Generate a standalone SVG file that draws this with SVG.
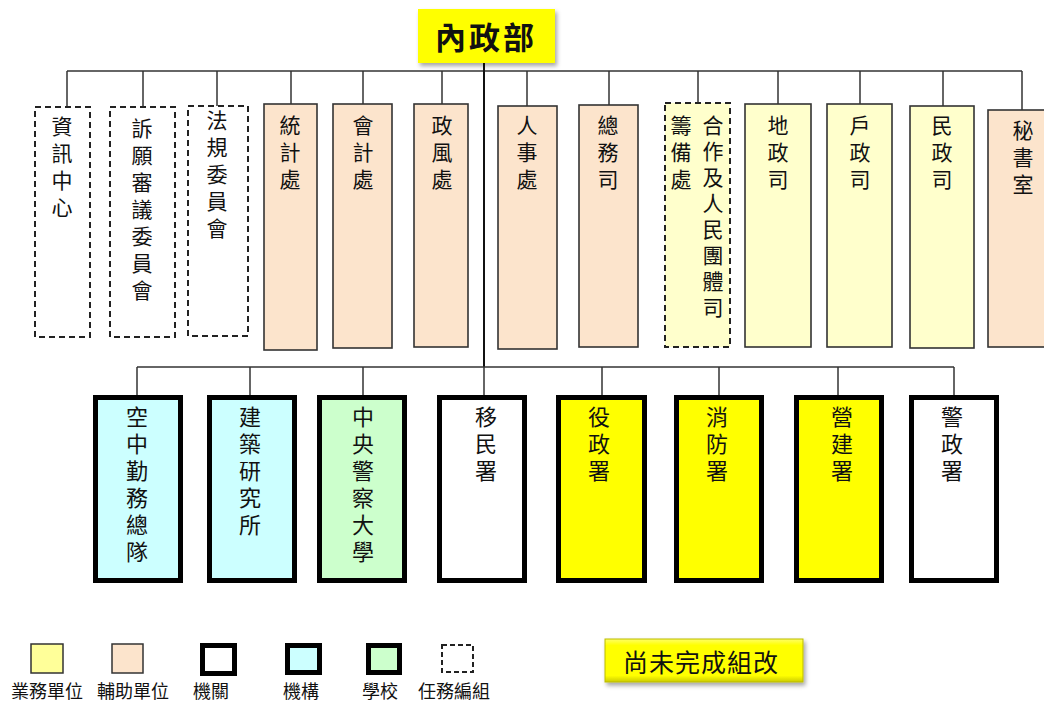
<svg xmlns="http://www.w3.org/2000/svg" width="1044" height="704" viewBox="0 0 1044 704">
<defs>
<style>
text{font-family:"Noto Sans CJK TC","Noto Sans CJK SC",sans-serif;fill:#111;}
.t{font-size:21px;writing-mode:vertical-rl;text-orientation:upright;letter-spacing:6px;}
.b{font-size:22px;writing-mode:vertical-rl;text-orientation:upright;letter-spacing:5px;}
.lg{font-size:18px;}
.peach{fill:#FCE4CC;stroke:#333;stroke-width:1.6;}
.ly{fill:#FFFFCC;stroke:#333;stroke-width:1.6;}
.dash{fill:#fff;stroke:#222;stroke-width:2;stroke-dasharray:6,4;}
.dashy{fill:#FFFFCC;stroke:#222;stroke-width:2;stroke-dasharray:6,4;}
.thick{stroke:#000;stroke-width:5;}
.conn{stroke:#333;stroke-width:1.5;fill:none;}
</style>
<filter id="sh" x="-10%" y="-10%" width="130%" height="140%">
<feDropShadow dx="2" dy="3" stdDeviation="2" flood-color="#000" flood-opacity="0.35"/>
</filter>
<linearGradient id="bev" x1="0" y1="0" x2="0" y2="1">
<stop offset="0" stop-color="#FFFF66"/>
<stop offset="0.15" stop-color="#FFFF00"/>
<stop offset="0.85" stop-color="#FFFF00"/>
<stop offset="1" stop-color="#CCCC00"/>
</linearGradient>
</defs>
<rect width="1044" height="704" fill="#fff"/>

<g id="connectors">
<line class="conn" x1="67" y1="71" x2="1022" y2="71"/>
<line class="conn" x1="67" y1="71" x2="67" y2="107"/>
<line class="conn" x1="143" y1="71" x2="143" y2="107"/>
<line class="conn" x1="217" y1="71" x2="217" y2="106"/>
<line class="conn" x1="291" y1="71" x2="291" y2="104"/>
<line class="conn" x1="363" y1="71" x2="363" y2="104"/>
<line class="conn" x1="442" y1="71" x2="442" y2="104"/>
<line class="conn" x1="527" y1="71" x2="527" y2="106"/>
<line class="conn" x1="609" y1="71" x2="609" y2="105"/>
<line class="conn" x1="698" y1="71" x2="698" y2="103"/>
<line class="conn" x1="778" y1="71" x2="778" y2="104"/>
<line class="conn" x1="860" y1="71" x2="860" y2="104"/>
<line class="conn" x1="943" y1="71" x2="943" y2="106"/>
<line class="conn" x1="1022" y1="71" x2="1022" y2="110"/>
<line x1="484" y1="63" x2="484" y2="367" stroke="#111" stroke-width="2"/>
<line class="conn" x1="137" y1="367" x2="954" y2="367"/>
<line class="conn" x1="137" y1="367" x2="137" y2="395"/>
<line class="conn" x1="250" y1="367" x2="250" y2="395"/>
<line class="conn" x1="363" y1="367" x2="363" y2="395"/>
<line class="conn" x1="484" y1="367" x2="484" y2="395" stroke-width="2"/>
<line class="conn" x1="602" y1="367" x2="602" y2="395"/>
<line class="conn" x1="719" y1="367" x2="719" y2="395"/>
<line class="conn" x1="838" y1="367" x2="838" y2="395"/>
<line class="conn" x1="954" y1="367" x2="954" y2="395"/>
</g>

<g id="n-root">
<rect x="418" y="9" width="137" height="54" fill="#FFFF00" filter="url(#sh)"/>
<text x="486" y="49" font-size="31" font-weight="bold" text-anchor="middle" letter-spacing="3">內政部</text>
</g>

<g id="n-info">
<rect class="dash" x="35" y="107" width="55" height="230"/>
<text class="t" x="62" y="116">資訊中心</text>
</g>
<g id="n-appeal">
<rect class="dash" x="110" y="107" width="65" height="230"/>
<text class="t" x="142" y="118">訴願審議委員會</text>
</g>
<g id="n-law">
<rect class="dash" x="188" y="106" width="60" height="230"/>
<text class="t" x="217" y="110">法規委員會</text>
</g>
<g id="n-stat">
<rect class="peach" x="264" y="104" width="53" height="246"/>
<text class="t" x="290" y="115">統計處</text>
</g>
<g id="n-acct">
<rect class="peach" x="333" y="104" width="59" height="244"/>
<text class="t" x="363" y="115">會計處</text>
</g>
<g id="n-ethics">
<rect class="peach" x="414" y="104" width="54" height="243"/>
<text class="t" x="442" y="115">政風處</text>
</g>
<g id="n-personnel">
<rect class="peach" x="498" y="106" width="59" height="243"/>
<text class="t" x="527" y="115">人事處</text>
</g>
<g id="n-general">
<rect class="peach" x="579" y="105" width="59" height="242"/>
<text class="t" x="608" y="115">總務司</text>
</g>
<g id="n-coop">
<rect class="dashy" x="665" y="103" width="65" height="244"/>
<text class="t" x="681" y="115">籌備處</text>
<text class="t" x="713" y="115" style="letter-spacing:5px">合作及人民團體司</text>
</g>
<g id="n-land">
<rect class="ly" x="745" y="104" width="66" height="243"/>
<text class="t" x="778" y="115">地政司</text>
</g>
<g id="n-household">
<rect class="ly" x="827" y="104" width="65" height="243"/>
<text class="t" x="860" y="115">戶政司</text>
</g>
<g id="n-civil">
<rect class="ly" x="910" y="106" width="64" height="242"/>
<text class="t" x="942" y="115">民政司</text>
</g>
<g id="n-secretariat">
<rect class="peach" x="988" y="110" width="70" height="237"/>
<text class="t" x="1023" y="120">秘書室</text>
</g>

<g id="n-air">
<rect class="thick" fill="#CCFFFF" x="95.5" y="397.5" width="85" height="183"/>
<text class="b" x="137" y="406">空中勤務總隊</text>
</g>
<g id="n-abri">
<rect class="thick" fill="#CCFFFF" x="209.5" y="397.5" width="85" height="183"/>
<text class="b" x="250" y="406">建築研究所</text>
</g>
<g id="n-cpu">
<rect class="thick" fill="#CCFFCC" x="319.5" y="397.5" width="85" height="183"/>
<text class="b" x="363" y="406">中央警察大學</text>
</g>
<g id="n-immig">
<rect class="thick" fill="#fff" x="439.5" y="397.5" width="85" height="183"/>
<text class="b" x="486" y="406">移民署</text>
</g>
<g id="n-conscript">
<rect class="thick" fill="#FFFF00" x="558.5" y="397.5" width="86" height="183"/>
<text class="b" x="599" y="406">役政署</text>
</g>
<g id="n-fire">
<rect class="thick" fill="#FFFF00" x="676.5" y="397.5" width="85" height="183"/>
<text class="b" x="717" y="406">消防署</text>
</g>
<g id="n-cpami">
<rect class="thick" fill="#FFFF00" x="796.5" y="397.5" width="85" height="183"/>
<text class="b" x="842" y="406">營建署</text>
</g>
<g id="n-police">
<rect class="thick" fill="#fff" x="911.5" y="397.5" width="85" height="183"/>
<text class="b" x="952" y="406">警政署</text>
</g>

<g id="legend">
<rect x="31" y="644" width="32" height="29" fill="#FFFF99" stroke="#333" stroke-width="1.5"/>
<rect x="112" y="644" width="31" height="29" fill="#FCE4CC" stroke="#333" stroke-width="1.5"/>
<rect x="202.5" y="645.5" width="32" height="28" fill="#fff" stroke="#000" stroke-width="5"/>
<rect x="287.5" y="645.5" width="32" height="27" fill="#CCFFFF" stroke="#000" stroke-width="5"/>
<rect x="368.5" y="645.5" width="31" height="27" fill="#CCFFCC" stroke="#000" stroke-width="5"/>
<rect x="442" y="645" width="31" height="27" fill="#fff" stroke="#222" stroke-width="2" stroke-dasharray="5,3"/>
<text class="lg" x="11" y="698">業務單位</text>
<text class="lg" x="97" y="698">輔助單位</text>
<text class="lg" x="193" y="698">機關</text>
<text class="lg" x="283" y="698">機構</text>
<text class="lg" x="362" y="698">學校</text>
<text class="lg" x="418" y="698">任務編組</text>
</g>
<g id="n-pending">
<rect x="605" y="639" width="198" height="43" fill="url(#bev)" stroke="#BBBB00" stroke-width="1" filter="url(#sh)"/>
<text x="623" y="672" font-size="25" letter-spacing="1">尚未完成組改</text>
</g>
</svg>
